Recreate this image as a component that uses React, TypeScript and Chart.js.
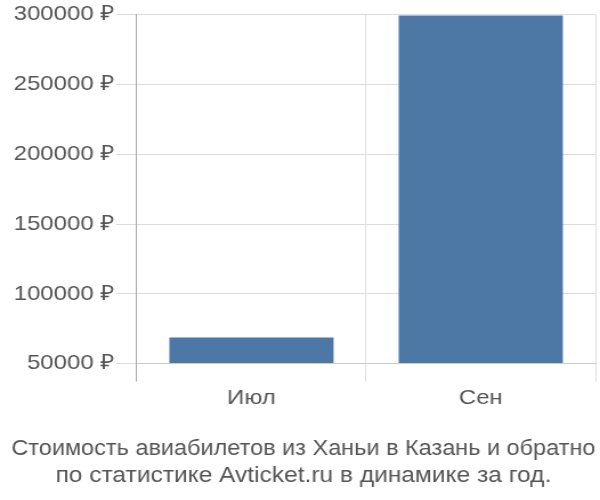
import { useEffect, useRef } from 'react'
import Chart from 'chart.js/auto'

const months = ['Июл', 'Сен']
const prices = [68700, 299300]
const yTicks = [50000, 100000, 150000, 200000, 250000, 300000]
const titleLines = ['Стоимость авиабилетов из Ханьи в Казань и обратно', 'по статистике Avticket.ru в динамике за год.']

const FONT = '"Liberation Sans", Arial, sans-serif'
// the reference text is drawn a bit wider than normal, so draw narrower and stretch to 600px
const DRAW_WIDTH = 526

export default function App() {
  const canvasRef = useRef<HTMLCanvasElement>(null)

  useEffect(() => {
    document.body.style.margin = '0'
    if (!canvasRef.current) return
    const chart = new Chart(canvasRef.current, {
      type: 'bar',
      data: {
        labels: months,
        datasets: [
          {
            data: prices,
            base: yTicks[0],
            backgroundColor: '#4d78a6',
            categoryPercentage: 1,
            barPercentage: 0.716,
          },
        ],
      },
      options: {
        animation: false,
        responsive: false,
        devicePixelRatio: 1,
        layout: { padding: { top: 4, right: 4, left: 10, bottom: 0 } },
        plugins: {
          legend: { display: false },
          tooltip: { enabled: false },
          title: {
            display: true,
            position: 'bottom',
            text: titleLines,
            color: '#555',
            font: { family: FONT, size: 21.5, weight: 'normal', lineHeight: 1.26 },
            padding: { top: 21, bottom: 10 },
          },
        },
        scales: {
          x: {
            grid: {
              offset: true,
              color: ctx => (ctx.index === 0 ? '#aaa' : '#ddd'),
              tickLength: 18,
            },
            border: { color: '#ccc' },
            ticks: { color: '#555', font: { family: FONT, size: 21 }, padding: 4 },
          },
          y: {
            min: yTicks[0],
            max: yTicks[yTicks.length - 1],
            afterBuildTicks: axis => {
              axis.ticks = yTicks.map(v => ({ value: v }))
            },
            grid: { color: '#ddd', tickLength: 18 },
            border: { color: '#aaa' },
            ticks: {
              color: '#555',
              font: { family: FONT, size: 21 },
              padding: 2,
              callback: v => `${v} ₽`,
            },
          },
        },
      },
    })
    return () => chart.destroy()
  }, [])

  return (
    <div style={{ width: 600, height: 500 }}>
      <canvas ref={canvasRef} width={DRAW_WIDTH} height={500} style={{ width: 600, height: 500 }} />
    </div>
  )
}
